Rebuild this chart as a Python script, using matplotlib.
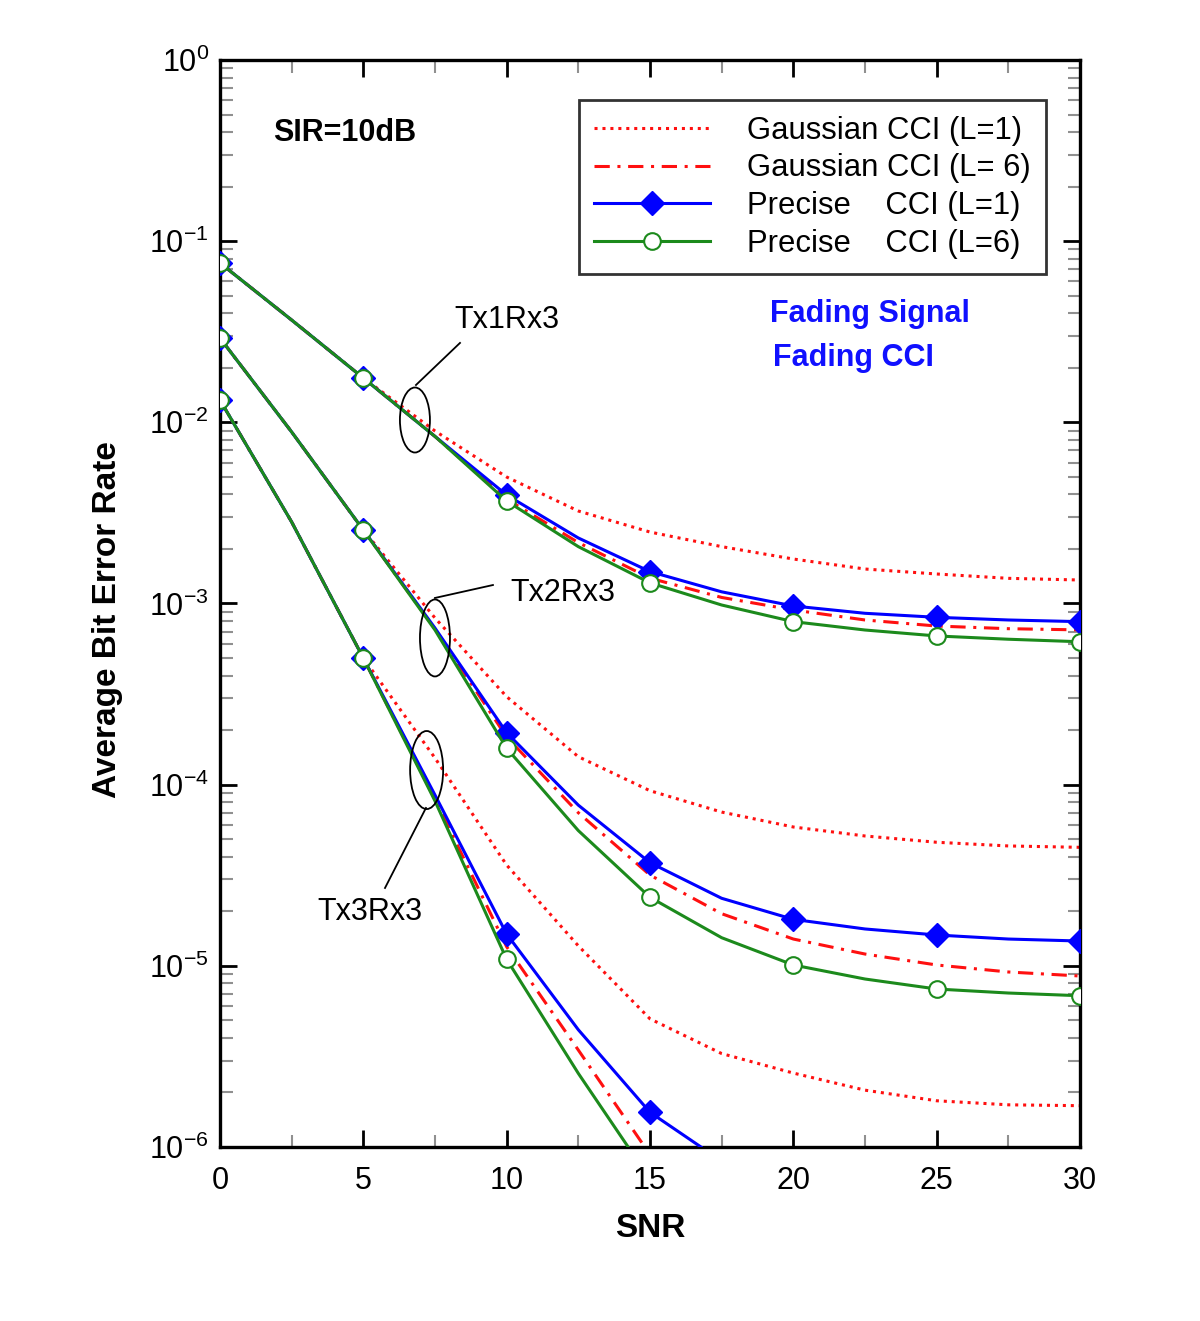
import numpy as np
import matplotlib
matplotlib.use("Agg")
import matplotlib.pyplot as plt
from matplotlib.patches import Ellipse
from matplotlib.ticker import LogLocator, MultipleLocator, NullFormatter

plt.rcParams['font.family'] = ['Liberation Sans', 'DejaVu Sans']
plt.rcParams['mathtext.fontset'] = 'custom'
plt.rcParams['mathtext.rm'] = 'Liberation Sans'
plt.rcParams['axes.unicode_minus'] = False

# SNR grid (dB)
snr = [0, 2.5, 5, 7.5, 10, 12.5, 15, 17.5, 20, 22.5, 25, 27.5, 30]

# Tx1Rx3
t1_gauss_l1 = [0.0758, 0.0367, 0.01757, 0.00896, 0.00499, 0.00324, 0.00248, 0.00206, 0.00176, 0.00155, 0.001455, 0.001377, 0.001348]
t1_gauss_l6 = [0.0758, 0.0367, 0.01757, 0.00836, 0.00377, 0.00217, 0.00138, 0.00108, 0.000921, 0.000811, 0.000751, 0.000726, 0.000715]
t1_prec_l1 = [0.0758, 0.0367, 0.01757, 0.00836, 0.00397, 0.00230, 0.00150, 0.00116, 0.000969, 0.000883, 0.000839, 0.000811, 0.000794]
t1_prec_l6 = [0.0758, 0.0367, 0.01757, 0.00836, 0.00368, 0.00206, 0.00130, 0.000981, 0.000794, 0.000714, 0.000662, 0.000635, 0.000615]

# Tx2Rx3
t2_gauss_l1 = [0.0292, 0.00885, 0.002545, 0.000832, 3.06e-4, 1.427e-4, 9.26e-5, 7.06e-5, 5.84e-5, 5.21e-5, 4.81e-5, 4.59e-5, 4.51e-5]
t2_gauss_l6 = [0.0292, 0.00885, 0.002545, 0.000723, 1.833e-4, 7.00e-5, 3.17e-5, 1.94e-5, 1.406e-5, 1.162e-5, 1.011e-5, 9.25e-6, 8.79e-6]
t2_prec_l1 = [0.0292, 0.00885, 0.002545, 0.000732, 1.936e-4, 7.71e-5, 3.71e-5, 2.36e-5, 1.806e-5, 1.598e-5, 1.480e-5, 1.406e-5, 1.371e-5]
t2_prec_l6 = [0.0292, 0.00885, 0.002545, 0.000714, 1.588e-4, 5.58e-5, 2.39e-5, 1.43e-5, 1.011e-5, 8.46e-6, 7.45e-6, 7.08e-6, 6.84e-6]

# Tx3Rx3 (curves leave the plot at the bottom)
t3_gauss_l1 = [0.01328, 0.00282, 0.000500, 1.404e-4, 3.60e-5, 1.29e-5, 5.10e-6, 3.28e-6, 2.56e-6, 2.06e-6, 1.80e-6, 1.71e-6, 1.691e-6]
snr_t3_gl6 = [0, 2.5, 5, 7.5, 10, 12.5, 14.82]
t3_gauss_l6 = [0.01328, 0.00282, 0.000500, 8.34e-5, 1.275e-5, 3.43e-6, 1.0e-6]
snr_t3_pl1 = [0, 2.5, 5, 7.5, 10, 12.5, 15, 16.78]
t3_prec_l1 = [0.01328, 0.00282, 0.000500, 8.77e-5, 1.499e-5, 4.44e-6, 1.555e-6, 1.0e-6]
snr_t3_pl6 = [0, 2.5, 5, 7.5, 10, 12.5, 14.24]
t3_prec_l6 = [0.01328, 0.00282, 0.000500, 8.13e-5, 1.087e-5, 2.55e-6, 1.0e-6]

labels = ['Gaussian CCI (L=1)', 'Gaussian CCI (L= 6)',
          'Precise    CCI (L=1)', 'Precise    CCI (L=6)']

red = '#ff1010'
blue = '#0000ff'
green = '#1c8a1c'
dot_style = (0, (1, 1.6))
dd_style = (0, (5, 2.5, 1, 2.5))


def marks(xs):
    return [i for i, v in enumerate(xs) if v % 5 == 0]


fig = plt.figure(figsize=(12, 13.21), dpi=100)
ax = fig.add_axes([0.1833, 0.1317, 0.7167, 0.8229])

groups = [
    (snr, t1_gauss_l1, snr, t1_gauss_l6, snr, t1_prec_l1, snr, t1_prec_l6),
    (snr, t2_gauss_l1, snr, t2_gauss_l6, snr, t2_prec_l1, snr, t2_prec_l6),
    (snr, t3_gauss_l1, snr_t3_gl6, t3_gauss_l6, snr_t3_pl1, t3_prec_l1, snr_t3_pl6, t3_prec_l6),
]
handles = None
for g in groups:
    x1, y1, x2, y2, x3, y3, x4, y4 = g
    h1, = ax.plot(x1, y1, color=red, lw=2.2, ls=dot_style, zorder=2)
    h2, = ax.plot(x2, y2, color=red, lw=2.2, ls=dd_style, zorder=2)
    h3, = ax.plot(x3, y3, color=blue, lw=2.2, marker='D', ms=12,
                  markevery=marks(x3), mfc=blue, mec=blue, zorder=3)
    h4, = ax.plot(x4, y4, color=green, lw=2.2, marker='o', ms=12,
                  markevery=marks(x4), mfc='white', mec=green, mew=1.5, zorder=4)
    handles = [h1, h2, h3, h4]

ax.set_yscale('log')
ax.set_xlim(0, 30)
ax.set_ylim(1e-6, 1)
ax.xaxis.set_major_locator(MultipleLocator(5))
ax.xaxis.set_minor_locator(MultipleLocator(2.5))
ax.yaxis.set_major_locator(LogLocator(base=10, numticks=10))
ax.yaxis.set_minor_locator(LogLocator(base=10, subs=np.arange(2, 10), numticks=20))
ax.yaxis.set_minor_formatter(NullFormatter())

ax.tick_params(which='both', direction='in', top=True, right=True)
ax.tick_params(which='major', length=12, width=2, color='black', labelsize=22)
ax.tick_params(axis='x', which='major', pad=14)
ax.tick_params(axis='y', which='major', pad=8)
ax.tick_params(which='minor', length=9, width=1.5, color='#909090')
for s in ax.spines.values():
    s.set_linewidth(2.4)

ax.set_xlabel('SNR', fontsize=24, fontweight='bold', labelpad=12)
ax.set_ylabel('Average Bit Error Rate', fontsize=24, fontweight='bold')
ax.yaxis.set_label_coords(-0.113, 0.485)

leg = ax.legend(handles, labels, loc='upper right', bbox_to_anchor=(0.961, 0.963),
                borderaxespad=0, fontsize=22.3, frameon=True, fancybox=False,
                handlelength=3.75, handletextpad=1.2, labelspacing=0.25,
                borderpad=0.5, markerscale=1.0)
leg.get_frame().set_edgecolor('black')
leg.get_frame().set_linewidth(2)

# annotations
ax.text(0.1453, 0.9328, 'SIR=10dB', transform=ax.transAxes, fontsize=22,
        fontweight='bold', ha='center', va='center')
ax.text(0.7558, 0.7663, 'Fading Signal', transform=ax.transAxes, fontsize=22,
        fontweight='bold', color='#1010ff', ha='center', va='center')
ax.text(0.7360, 0.7259, 'Fading CCI', transform=ax.transAxes, fontsize=22,
        fontweight='bold', color='#1010ff', ha='center', va='center')

notes = [
    ('Tx1Rx3', (0.2267, 0.6688), 0.0349, 0.0598, (0.2279, 0.7010), (0.2791, 0.7397), (0.3337, 0.7608)),
    ('Tx2Rx3', (0.2500, 0.4683), 0.0349, 0.0708, (0.2500, 0.5051), (0.3174, 0.5170), (0.3988, 0.5097)),
    ('Tx3Rx3', (0.2403, 0.3468), 0.0384, 0.0718, (0.2395, 0.3119), (0.1919, 0.2383), (0.1744, 0.2162)),
]
for name, c, w, h, p0, p1, tp in notes:
    ax.add_patch(Ellipse(c, w, h, transform=ax.transAxes, fill=False,
                         edgecolor='black', lw=1.3, zorder=5))
    ax.plot([p0[0], p1[0]], [p0[1], p1[1]], color='black', lw=1.3,
            transform=ax.transAxes, zorder=5)
    ax.text(tp[0], tp[1], name, transform=ax.transAxes, fontsize=22,
            ha='center', va='center')

fig.savefig('out.png', dpi=100)
